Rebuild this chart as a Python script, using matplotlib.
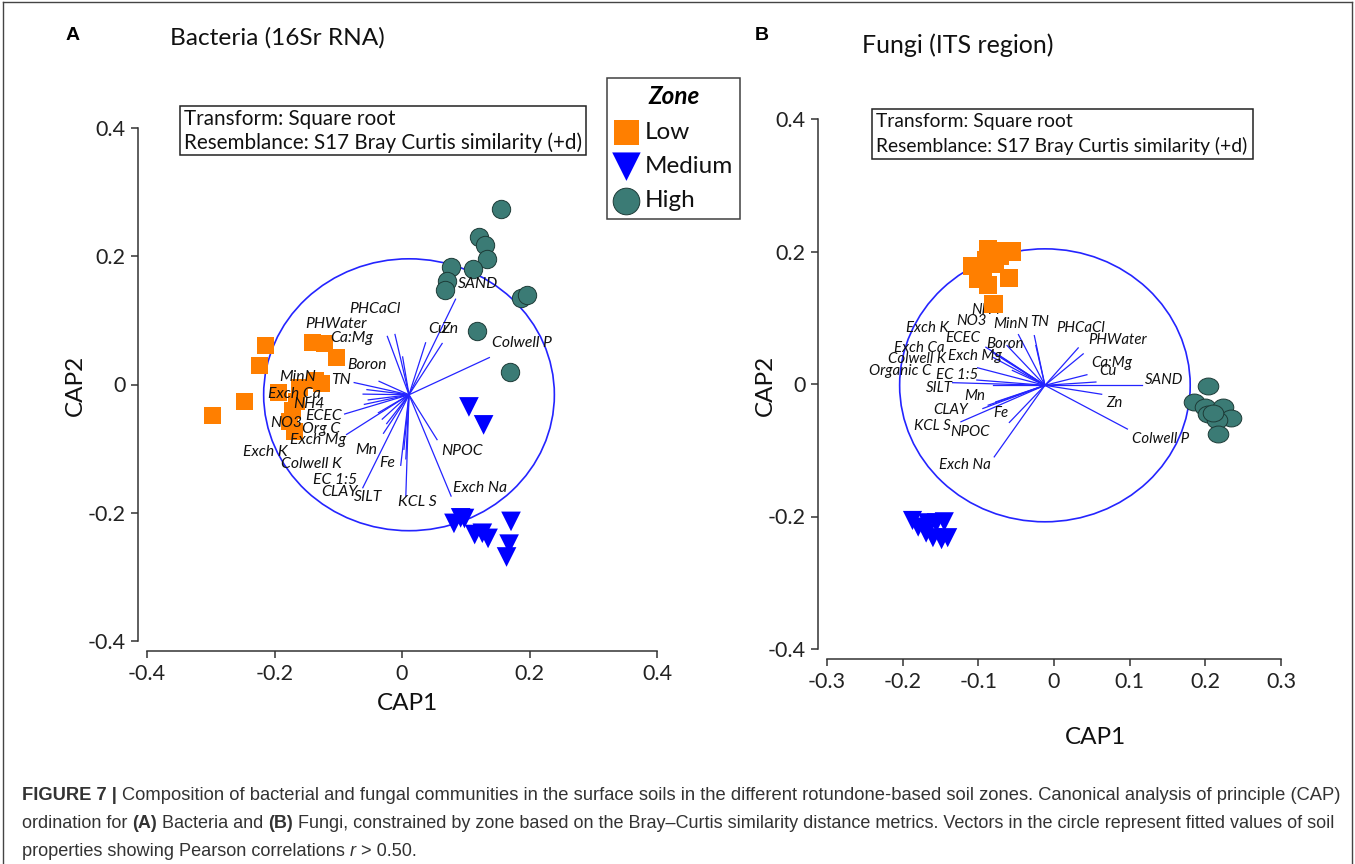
import matplotlib
matplotlib.use('Agg')
import matplotlib.pyplot as plt
from matplotlib.patches import Ellipse, Rectangle
from matplotlib.lines import Line2D
from matplotlib.path import Path
from matplotlib.transforms import Affine2D

W, H = 1355, 864

# ---------------- data: panel A, bacteria (16Sr RNA) ----------------
a_low_x = [-0.214, -0.224, -0.247, -0.298, -0.141, -0.122, -0.102, -0.136,
           -0.127, -0.161, -0.194, -0.166, -0.171, -0.176, -0.168]
a_low_y = [0.061, 0.029, -0.026, -0.049, 0.066, 0.064, 0.042, 0.007,
           0.002, -0.004, -0.013, -0.027, -0.041, -0.058, -0.074]
a_med_x = [0.105, 0.128, 0.0815, 0.092, 0.098, 0.114, 0.126, 0.135, 0.171, 0.168, 0.164]
a_med_y = [-0.035, -0.063, -0.2166, -0.208, -0.209, -0.234, -0.232, -0.240, -0.2135, -0.249, -0.269]
a_high_x = [0.155, 0.121, 0.130, 0.134, 0.077, 0.111, 0.070, 0.067, 0.186, 0.196, 0.117, 0.169]
a_high_y = [0.274, 0.2295, 0.218, 0.196, 0.183, 0.180, 0.162, 0.148, 0.135, 0.139, 0.083, 0.020]

a_origin = (0.011, -0.016)
a_vec_names = ['SAND', 'Cu', 'Zn', 'Colwell P', 'PHCaCl', 'PHWater', 'Ca:Mg', 'Boron',
               'TN', 'MinN', 'Exch Ca', 'NH4', 'ECEC', 'NO3', 'Org C', 'Exch Mg',
               'Exch K', 'Colwell K', 'Mn', 'Fe', 'EC 1:5', 'CLAY', 'SILT', 'KCL S',
               'NPOC', 'Exch Na']
a_vec_dx = [0.073, 0.026, 0.052, 0.126, -0.022, -0.034, -0.010, -0.047,
            -0.086, -0.066, -0.072, -0.064, -0.101, -0.070, -0.098, -0.042,
            -0.048, -0.035, -0.040, -0.013, -0.008, -0.0725, -0.005, -0.005,
            0.044, 0.066]
a_vec_dy = [0.149, 0.081, 0.080, 0.058, 0.094, 0.091, 0.059, 0.021,
            0.019, 0.008, 0.001, -0.008, -0.030, -0.015, -0.062, -0.038,
            -0.028, -0.045, -0.060, -0.110, -0.085, -0.145, -0.100, -0.158,
            -0.070, -0.158]

# ---------------- data: panel B, fungi (ITS region) ----------------
b_low_x = [-0.087, -0.067, -0.055, -0.108, -0.094, -0.078, -0.060, -0.101,
           -0.087, -0.080, -0.0895, -0.071]
b_low_y = [0.203, 0.200, 0.200, 0.178, 0.175, 0.181, 0.160, 0.159,
           0.149, 0.121, 0.187, 0.194]
b_med_x = [-0.187, -0.1795, -0.167, -0.1555, -0.145, -0.169, -0.160, -0.1486, -0.1405]
b_med_y = [-0.206, -0.216, -0.2095, -0.2095, -0.208, -0.225, -0.232, -0.235, -0.232]
b_high_x = [0.2036, 0.1855, 0.200, 0.223, 0.2036, 0.234, 0.215, 0.2165, 0.210]
b_high_y = [-0.003, -0.027, -0.035, -0.035, -0.046, -0.051, -0.054, -0.076, -0.044]

b_origin = (-0.012, -0.002)
b_vec_names = ['SAND', 'Colwell P', 'Zn', 'Cu', 'Ca:Mg', 'PHWater', 'PHCaCl', 'TN',
               'MinN', 'NH4', 'NO3', 'Boron', 'ECEC', 'Exch K', 'Exch Mg', 'Exch Ca',
               'Colwell K', 'Organic C', 'EC 1:5', 'SILT', 'Mn', 'CLAY', 'KCL S', 'Fe',
               'NPOC', 'Exch Na']
b_vec_dx = [0.128, 0.109, 0.075, 0.0555, 0.0674, 0.0506, 0.044, -0.014,
            -0.035, -0.012, -0.050, -0.078, -0.060, -0.070, -0.069, -0.089,
            -0.043, -0.122, -0.090, -0.069, -0.082, -0.111, -0.075, -0.047,
            -0.065, -0.067]
b_vec_dy = [0.000, -0.066, -0.0135, 0.016, 0.005, 0.0475, 0.0565, 0.075,
            0.0765, 0.060, 0.060, 0.0575, 0.045, 0.050, 0.0425, 0.0265,
            0.0225, 0.004, 0.008, 0.000, -0.035, -0.055, -0.030, -0.056,
            -0.025, -0.108]

zones = ['Low', 'Medium', 'High']

# ---------------- layout: label anchors (left edge, centre) ----------------
a_lab_pos = {
    'SAND': (0.0875, 0.156), 'Cu': (0.041, 0.087), 'Zn': (0.061, 0.087),
    'Colwell P': (0.141, 0.065), 'PHCaCl': (-0.082, 0.117), 'PHWater': (-0.152, 0.095),
    'Ca:Mg': (-0.113, 0.073), 'Boron': (-0.086, 0.031), 'TN': (-0.111, 0.007),
    'MinN': (-0.192, 0.012), 'Exch Ca': (-0.210, -0.015), 'NH4': (-0.170, -0.031),
    'ECEC': (-0.152, -0.049), 'NO3': (-0.206, -0.060), 'Org C': (-0.1565, -0.069),
    'Exch Mg': (-0.176, -0.087), 'Exch K': (-0.250, -0.106), 'Colwell K': (-0.190, -0.124),
    'Mn': (-0.073, -0.102), 'Fe': (-0.036, -0.123), 'EC 1:5': (-0.140, -0.149),
    'CLAY': (-0.127, -0.167), 'SILT': (-0.076, -0.175), 'KCL S': (-0.0065, -0.184),
    'NPOC': (0.062, -0.104), 'Exch Na': (0.080, -0.162),
}
b_lab_pos = {
    'NH4': (-0.109, 0.112), 'NO3': (-0.129, 0.095), 'MinN': (-0.080, 0.090),
    'TN': (-0.031, 0.094), 'PHCaCl': (0.0035, 0.085), 'PHWater': (0.045, 0.067),
    'Exch K': (-0.196, 0.084), 'ECEC': (-0.144, 0.070), 'Boron': (-0.090, 0.060),
    'Exch Ca': (-0.212, 0.055), 'Exch Mg': (-0.140, 0.042), 'Colwell K': (-0.220, 0.037),
    'Ca:Mg': (0.049, 0.032), 'Cu': (0.060, 0.0195), 'Organic C': (-0.245, 0.0195),
    'EC 1:5': (-0.156, 0.0135), 'SAND': (0.120, 0.006), 'SILT': (-0.1695, -0.0065),
    'Mn': (-0.119, -0.0175), 'Zn': (0.0687, -0.029), 'CLAY': (-0.159, -0.040),
    'Fe': (-0.080, -0.044), 'KCL S': (-0.185, -0.063), 'NPOC': (-0.1365, -0.0717),
    'Colwell P': (0.1026, -0.083), 'Exch Na': (-0.152, -0.123),
}

ORANGE = '#ff7f00'
BLUE = '#0000ff'
TEAL = '#3b7b75'
VEC = '#2424ff'
TXT = '#111111'
SANS = ['Lato', 'DejaVu Sans']
plt.rcParams['font.family'] = SANS
plt.rcParams['axes.unicode_minus'] = False

fig = plt.figure(figsize=(W / 100, H / 100), dpi=100)


def fx(px):
    return px / W


def fy(py):
    return 1 - py / H


def make_axes(x0, x1, y0, y1, xlim, ylim):
    # x0..x1 / y0..y1 are pixel positions of the outer tick values
    ax = fig.add_axes([fx(x0), fy(y1), (x1 - x0) / W, (y1 - y0) / H])
    ax.set_xlim(*xlim)
    ax.set_ylim(*ylim)
    ax.patch.set_alpha(0)
    for s in ['top', 'right']:
        ax.spines[s].set_visible(False)
    ax.spines['left'].set_position(('outward', 6.5))
    ax.spines['bottom'].set_position(('outward', 7.5))
    ax.spines['left'].set_bounds(*ylim)
    ax.spines['bottom'].set_bounds(*xlim)
    for s in ['left', 'bottom']:
        ax.spines[s].set_color('#333333')
        ax.spines[s].set_linewidth(1.1)
    ax.tick_params(direction='out', length=5, width=1.1, color='#333333',
                   labelsize=15.5, labelcolor='#222222', pad=4)
    return ax


def draw_panel(ax, low, med, high, origin, names, dx, dy, lab_pos, circ_w, circ_h,
               lab_size, circle_marker, lab_z, msize):
    ox, oy = origin
    ax.add_patch(Ellipse((ox, oy), circ_w, circ_h, fill=False, edgecolor=VEC,
                         linewidth=1.2, zorder=2))
    for n, vx, vy in zip(names, dx, dy):
        ax.plot([ox, ox + vx], [oy, oy + vy], color=VEC, linewidth=0.9, zorder=2)
        lx, ly = lab_pos[n]
        ax.text(lx, ly, n, fontsize=lab_size, style='italic', color=TXT,
                ha='left', va='center', zorder=lab_z)
    s1 = ax.scatter(low[0], low[1], marker='s', s=msize[0], color=ORANGE,
                    edgecolors='none', zorder=4, label=zones[0])
    s2 = ax.scatter(med[0], med[1], marker='v', s=msize[1], color=BLUE,
                    edgecolors='none', zorder=4, label=zones[1])
    s3 = ax.scatter(high[0], high[1], marker=circle_marker, s=msize[2], color=TEAL,
                    edgecolors='#1d3b37', linewidths=0.7, zorder=4, label=zones[2])
    return s1, s2, s3


# ---------------- panel A ----------------
ax_a = make_axes(147, 657, 128, 641, (-0.4, 0.4), (-0.4, 0.4))
ax_a.set_xticks([-0.4, -0.2, 0, 0.2, 0.4])
ax_a.set_xticklabels(['-0.4', '-0.2', '0', '0.2', '0.4'])
ax_a.set_yticks([-0.4, -0.2, 0, 0.2, 0.4])
ax_a.set_yticklabels(['-0.4', '-0.2', '0', '0.2', '0.4'])
handles = draw_panel(ax_a, (a_low_x, a_low_y), (a_med_x, a_med_y), (a_high_x, a_high_y),
                     a_origin, a_vec_names, a_vec_dx, a_vec_dy, a_lab_pos,
                     0.456, 0.424, 11.3, 'o', 5, (150, 200, 175))

# ---------------- panel B ----------------
ellipse_marker = Path.unit_circle().transformed(Affine2D().scale(1.0, 0.82))
ax_b = make_axes(827, 1281, 119, 649, (-0.3, 0.3), (-0.4, 0.4))
ax_b.set_xticks([-0.3, -0.2, -0.1, 0, 0.1, 0.2, 0.3])
ax_b.set_xticklabels(['-0.3', '-0.2', '-0.1', '0', '0.1', '0.2', '0.3'])
ax_b.set_yticks([-0.4, -0.2, 0, 0.2, 0.4])
ax_b.set_yticklabels(['-0.4', '-0.2', '0', '0.2', '0.4'])
draw_panel(ax_b, (b_low_x, b_low_y), (b_med_x, b_med_y), (b_high_x, b_high_y),
           b_origin, b_vec_names, b_vec_dx, b_vec_dy, b_lab_pos,
           0.384, 0.412, 10.8, ellipse_marker, 3, (170, 190, 220))

# ---------------- axis titles, panel titles ----------------
fig.text(fx(408), fy(703), 'CAP1', fontsize=17.5, ha='center', va='center', color=TXT)
fig.text(fx(75), fy(385), 'CAP2', fontsize=17.5, ha='center', va='center', rotation=90, color=TXT)
fig.text(fx(1095), fy(738), 'CAP1', fontsize=17.5, ha='center', va='center', color=TXT)
fig.text(fx(765), fy(385), 'CAP2', fontsize=17.5, ha='center', va='center', rotation=90, color=TXT)

fig.text(fx(73), fy(35), 'A', fontsize=14, weight='bold', family='Liberation Sans',
         ha='center', va='center', color='black')
fig.text(fx(170), fy(38), 'Bacteria (16Sr RNA)', fontsize=17.6, ha='left', va='center', color=TXT)
fig.text(fx(762), fy(35), 'B', fontsize=14, weight='bold', family='Liberation Sans',
         ha='center', va='center', color='black')
fig.text(fx(862), fy(45), 'Fungi (ITS region)', fontsize=18, ha='left', va='center', color=TXT)

# info boxes
for (bx0, by0, bx1, by1, fs) in [(180, 106, 586, 155, 14.9), (872, 109, 1253, 159, 13.9)]:
    fig.patches.append(Rectangle((fx(bx0), fy(by1)), (bx1 - bx0) / W, (by1 - by0) / H,
                                 transform=fig.transFigure, fill=False,
                                 edgecolor='#222222', linewidth=1.1))
    fig.text(fx(bx0 + 4), fy(by0 + 13), 'Transform: Square root', fontsize=fs,
             ha='left', va='center', color=TXT)
    fig.text(fx(bx0 + 4), fy(by0 + 37), 'Resemblance: S17 Bray Curtis similarity (+d)',
             fontsize=fs, ha='left', va='center', color=TXT)

# legend
leg = fig.legend(handles=handles, labels=zones, title='Zone', loc='upper left',
                 bbox_to_anchor=(fx(607), fy(78)), frameon=True, fancybox=False,
                 edgecolor='#111111', fontsize=17.5, handletextpad=0.25,
                 labelspacing=0.55, borderpad=0.3, handlelength=1.0,
                 borderaxespad=0, markerscale=1.45,
                 title_fontproperties={'weight': 'bold', 'style': 'italic', 'size': 17.5})
leg.get_frame().set_linewidth(1.1)
for t in leg.get_texts():
    t.set_color(TXT)

# outer frame
fig.add_artist(Line2D([fx(3), fx(3)], [fy(2), 0], transform=fig.transFigure,
                      color='#444444', linewidth=1))
fig.add_artist(Line2D([fx(3), fx(1352)], [fy(2), fy(2)], transform=fig.transFigure,
                      color='#444444', linewidth=1))
fig.add_artist(Line2D([fx(1352), fx(1352)], [fy(2), 0], transform=fig.transFigure,
                      color='#444444', linewidth=1))

# ---------------- caption ----------------
CAP_FAMILY = 'Liberation Sans'
CAP_COLOR = '#333333'
renderer = fig.canvas.get_renderer()


def text_width(s, size, **kw):
    t = fig.text(0, 0, s, fontsize=size, family=CAP_FAMILY, **kw)
    w = t.get_window_extent(renderer=renderer).width
    t.remove()
    return w


def line_width(parts, size):
    sp = text_width('a a', size) - text_width('aa', size)
    w = 0
    for s, kw in parts:
        core = s.rstrip(' ')
        w += text_width(core, size, **kw) + (len(s) - len(core)) * sp
    return w


def rich_line(px, py, parts, size):
    sp = text_width('a a', size) - text_width('aa', size)
    x = px
    for s, kw in parts:
        core = s.rstrip(' ')
        t = fig.text(fx(x), fy(py), core, fontsize=size, family=CAP_FAMILY,
                     color=CAP_COLOR, ha='left', va='center', **kw)
        x += t.get_window_extent(renderer=renderer).width + (len(s) - len(core)) * sp


Bd = {'weight': 'bold'}
N = {}
It = {'style': 'italic'}
cap1 = [('FIGURE 7 | ', Bd),
        ('Composition of bacterial and fungal communities in the surface soils in the '
         'different rotundone-based soil zones. Canonical analysis of principle (CAP)', N)]
cap2 = [('ordination for ', N), ('(A) ', Bd), ('Bacteria and ', N), ('(B) ', Bd),
        ('Fungi, constrained by zone based on the Bray\u2013Curtis similarity distance '
         'metrics. Vectors in the circle represent fitted values of soil', N)]
cap3 = [('properties showing Pearson correlations ', N), ('r ', It), ('> 0.50.', N)]

size1 = 13 * 1313 / line_width(cap1, 13)
size2 = 13 * 1313 / line_width(cap2, 13)
rich_line(22, 795, cap1, size1)
rich_line(22, 824, cap2, size2)
rich_line(22, 852, cap3, (size1 + size2) / 2)

fig.savefig('out.png', dpi=100)
